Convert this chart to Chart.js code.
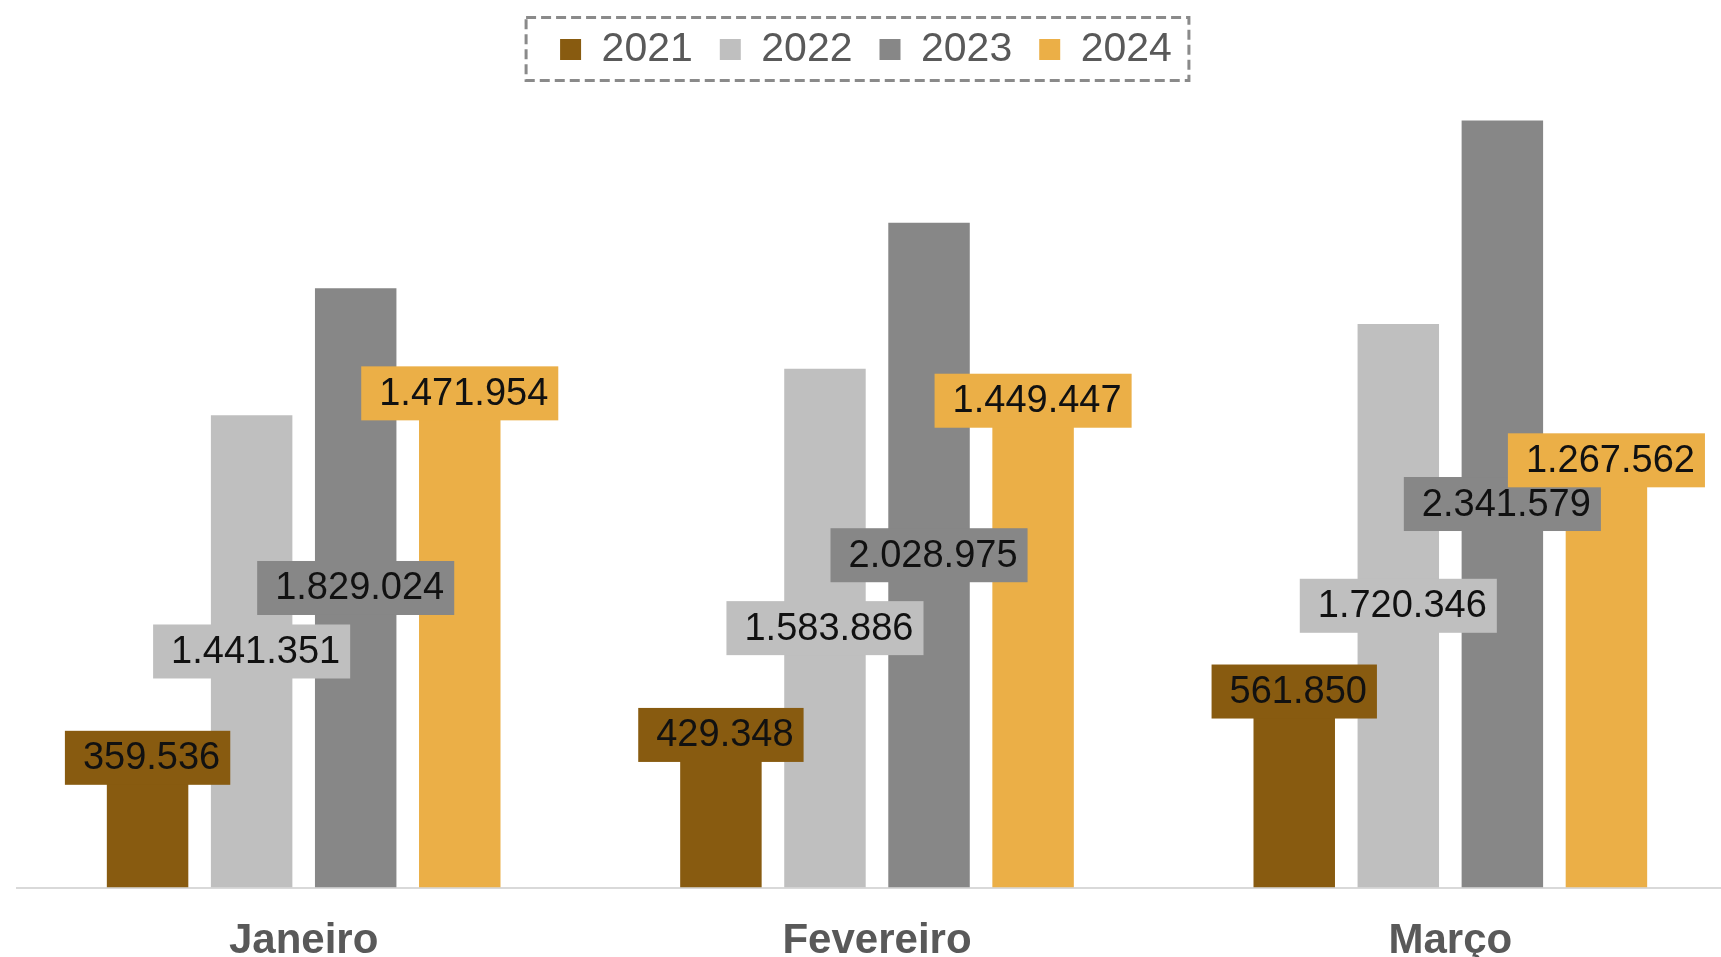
<!DOCTYPE html>
<html>
<head>
<meta charset="utf-8">
<script src="https://cdn.jsdelivr.net/npm/chart.js@4/dist/chart.umd.min.js"></script>
<style>
  html, body { margin: 0; padding: 0; background: #fff; overflow: hidden; }
  #wrap { width: 1721px; height: 957px; overflow: hidden; position: relative; }
  #chart { display: block; }
</style>
</head>
<body>
<div id="wrap"><canvas id="chart" width="1760" height="996"></canvas></div>
<script>
// data
const months = ['Janeiro', 'Fevereiro', 'Março'];
const years = ['2021', '2022', '2023', '2024'];
const v2021 = [359536, 429348, 561850];
const v2022 = [1441351, 1583886, 1720346];
const v2023 = [1829024, 2028975, 2341579];
const v2024 = [1471954, 1449447, 1267562];
const colors = ['#885B10', '#BFBFBF', '#878787', '#EBAF47'];
const yMax = 2465000;

// 2021 and 2024 labels sit at the bar end, the others in the middle
const labelAtEnd = [true, false, false, true];

const fmt = v => String(v).replace(/\B(?=(\d{3})+(?!\d))/g, '.');

Chart.defaults.font.family = '"Liberation Sans", Arial, sans-serif';

// value boxes drawn on top of the bars
const valueLabels = {
  id: 'valueLabels',
  afterDatasetsDraw(chart) {
    const ctx = chart.ctx;
    ctx.save();
    ctx.font = '38px "Liberation Sans", Arial, sans-serif';
    ctx.textAlign = 'center';
    ctx.textBaseline = 'middle';
    chart.data.datasets.forEach((ds, i) => {
      chart.getDatasetMeta(i).data.forEach((bar, j) => {
        const txt = fmt(ds.data[j]);
        const w = ctx.measureText(txt).width + 28;
        const h = 54;
        const cy = labelAtEnd[i] ? bar.y - 12 : (bar.y + bar.base) / 2;
        ctx.fillStyle = ds.backgroundColor;
        ctx.fillRect(bar.x - w / 2, cy - h / 2, w, h);
        ctx.fillStyle = '#111111';
        ctx.fillText(txt, bar.x + 4, cy + 1);
      });
    });
    ctx.restore();
  }
};

// move the legend a little left and put a dashed frame round it
const legendFrame = {
  id: 'legendFrame',
  afterLayout(chart) {
    chart.legend.left -= 11;
    chart.legend.right -= 11;
  },
  afterDraw(chart) {
    const boxes = chart.legend.legendHitBoxes;
    if (!boxes || !boxes.length) return;
    const first = boxes[0], last = boxes[boxes.length - 1];
    const cy = first.top + first.height / 2;
    const x0 = first.left - 34;
    const x1 = last.left + last.width + 17;
    const ctx = chart.ctx;
    ctx.save();
    ctx.strokeStyle = '#8a8a8a';
    ctx.lineWidth = 3;
    ctx.setLineDash([10, 5]);
    ctx.strokeRect(x0, cy - 32, x1 - x0, 63);
    ctx.restore();
  }
};

new Chart(document.getElementById('chart'), {
  type: 'bar',
  data: {
    labels: months,
    datasets: [
      { label: years[0], data: v2021, backgroundColor: colors[0] },
      { label: years[1], data: v2022, backgroundColor: colors[1] },
      { label: years[2], data: v2023, backgroundColor: colors[2] },
      { label: years[3], data: v2024, backgroundColor: colors[3] }
    ]
  },
  options: {
    responsive: false,
    animation: false,
    devicePixelRatio: 1,
    categoryPercentage: 0.726,
    barPercentage: 0.783,
    layout: { padding: { top: 2, left: 17, right: 23, bottom: 0 } },
    plugins: {
      legend: {
        position: 'top',
        labels: {
          boxWidth: 21,
          boxHeight: 21,
          padding: 27,
          color: '#595959',
          font: { size: 41 }
        }
      },
      tooltip: { enabled: false }
    },
    scales: {
      x: {
        grid: { display: false, drawTicks: false },
        border: { display: true, color: '#d9d9d9', width: 2 },
        ticks: {
          padding: 29,
          color: '#595959',
          font: { size: 42, weight: 'bold' }
        }
      },
      y: {
        display: false,
        min: 0,
        max: yMax
      }
    }
  },
  plugins: [valueLabels, legendFrame]
});
</script>
</body>
</html>
